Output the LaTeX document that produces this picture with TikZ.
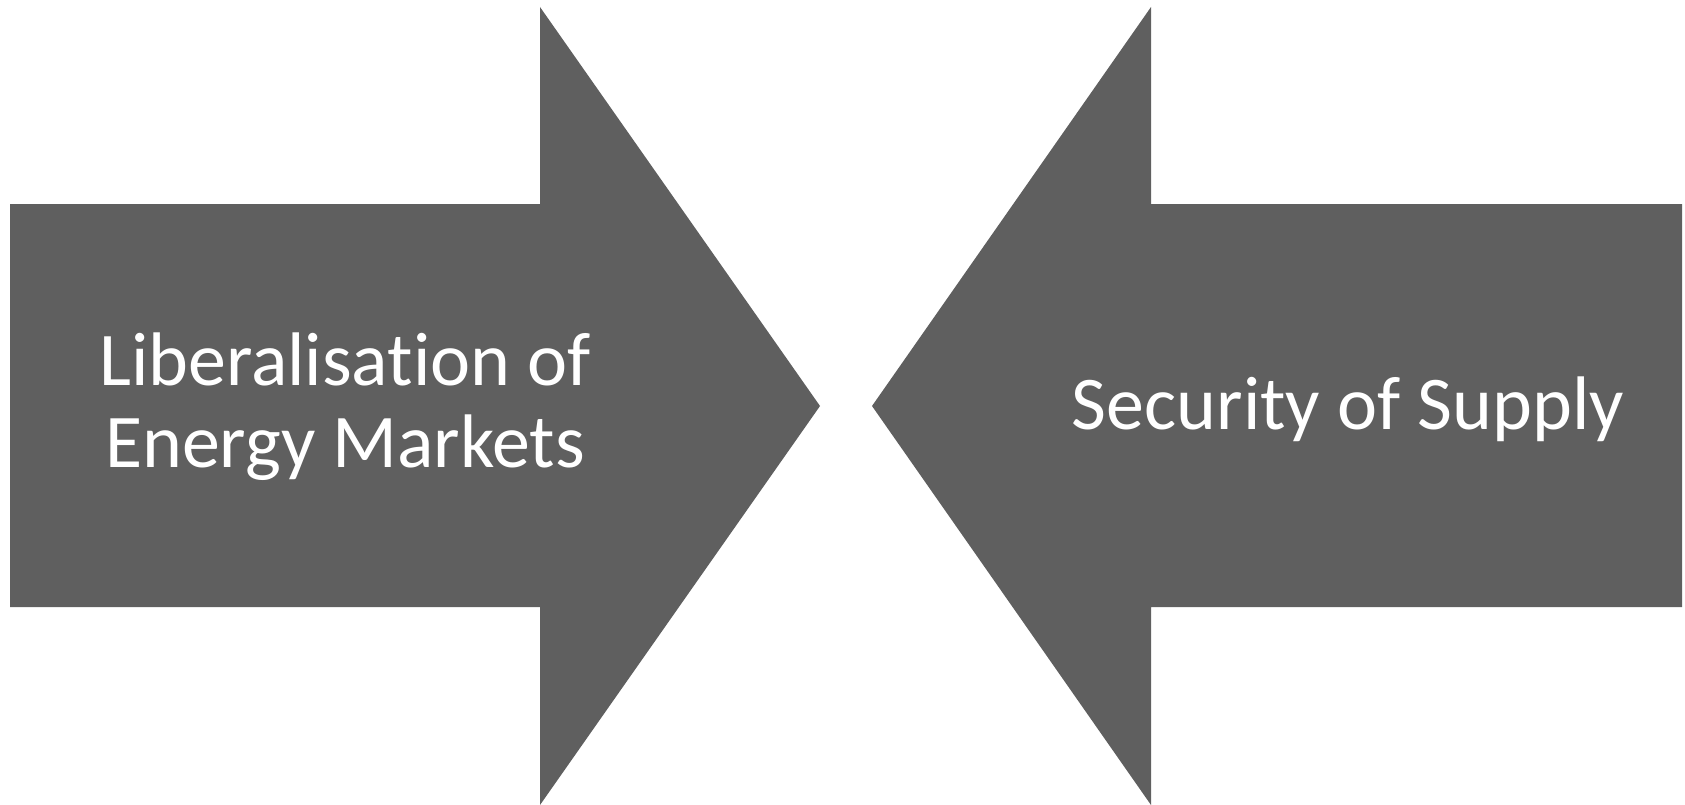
\documentclass[tikz,border=0pt]{standalone}
\usepackage{fontspec}
\setmainfont[Ligatures=NoCommon]{Carlito}
\usetikzlibrary{positioning}
\definecolor{arrgray}{HTML}{5F5F5F}

\begin{document}
\begin{tikzpicture}[
  x=0.1mm, y=-0.1mm,
  block/.style={fill=arrgray, draw=none},
  caption/.style={text=white, align=center, inner sep=0pt,
    font=\fontsize{21.6pt}{23.3pt}\selectfont},
]
  \useasboundingbox (0,0) rectangle (1685,805);

  % Arrow pointing right
  \fill[block] (10,204) -- (540,204) -- (540,7) -- (820,406)
    -- (540,805) -- (540,607) -- (10,607) -- cycle;

  % Arrow pointing left
  \fill[block] (1682,204) -- (1151,204) -- (1151,7) -- (872,406)
    -- (1151,805) -- (1151,607) -- (1682,607) -- cycle;

  % Labels
  \node[caption, anchor=base] (lib) at (345,467)
    {Liberalisation of\\Energy Markets};
  \node[caption, anchor=base] (sec) at (1348,429)
    {Security of Supply};
\end{tikzpicture}
\end{document}
